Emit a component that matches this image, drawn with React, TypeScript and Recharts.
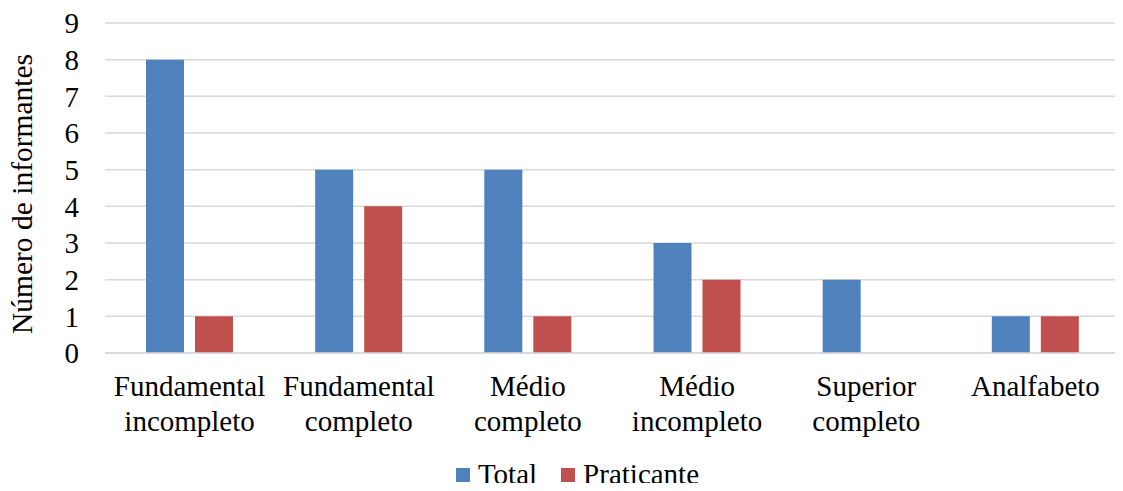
import React from "react";
import {
  BarChart,
  Bar,
  XAxis,
  YAxis,
  CartesianGrid,
  Legend,
} from "recharts";

const categories = [
  "Fundamental incompleto",
  "Fundamental completo",
  "Médio completo",
  "Médio incompleto",
  "Superior completo",
  "Analfabeto",
];
const tickLines = [
  ["Fundamental", "incompleto"],
  ["Fundamental", "completo"],
  ["Médio", "completo"],
  ["Médio", "incompleto"],
  ["Superior", "completo"],
  ["Analfabeto"],
];
const totalValues = [8, 5, 5, 3, 2, 1];
const praticanteValues = [1, 4, 1, 2, 0, 1];
const yTicks = [0, 1, 2, 3, 4, 5, 6, 7, 8, 9];

const BLUE = "#4F81BD";
const RED = "#C0504D";
const FONT = "'Liberation Serif', 'Times New Roman', serif";
const FS = 29;

const data = categories.map((c, i) => ({
  name: c,
  Total: totalValues[i],
  Praticante: praticanteValues[i],
}));

const CategoryTick = (props: any) => {
  const { x, y, index } = props;
  const lines = tickLines[index] || [];
  return (
    <g>
      {lines.map((line, i) => (
        <text
          key={i}
          x={x}
          y={y + 35 + i * 35}
          textAnchor="middle"
          style={{ fontFamily: FONT, fontSize: FS }}
          fill="#000"
        >
          {line}
        </text>
      ))}
    </g>
  );
};

const YLabel = () => (
  <text
    transform="translate(32,194) rotate(-90)"
    textAnchor="middle"
    style={{ fontFamily: FONT, fontSize: 29.5 }}
    fill="#000"
  >
    Número de informantes
  </text>
);

const LegendContent = () => (
  <div
    style={{
      display: "flex",
      justifyContent: "center",
      alignItems: "center",
      fontFamily: FONT,
      fontSize: FS,
      lineHeight: "28px",
      color: "#000",
      paddingLeft: 32,
    }}
  >
    {[
      { label: "Total", color: BLUE },
      { label: "Praticante", color: RED },
    ].map((it, i) => (
      <div
        key={it.label}
        style={{ display: "flex", alignItems: "center", marginLeft: i ? 24 : 0 }}
      >
        <span
          style={{
            display: "inline-block",
            width: 14,
            height: 14,
            background: it.color,
            marginRight: 8,
            marginTop: 2,
          }}
        />
        <span>{it.label}</span>
      </div>
    ))}
  </div>
);

export default function App() {
  return (
    <div style={{ margin: -8, width: 1123, height: 491, background: "#fff" }}>
      <BarChart
        width={1123}
        height={491}
        data={data}
        margin={{ top: 23, right: 3, left: 45, bottom: 0 }}
        barSize={38}
        barGap={11}
      >
        <CartesianGrid vertical={false} stroke="#D9D9D9" strokeWidth={1.5} />
        <XAxis
          dataKey="name"
          tick={<CategoryTick />}
          tickLine={false}
          axisLine={{ stroke: "#D9D9D9", strokeWidth: 1.5 }}
          interval={0}
          height={100}
        />
        <YAxis
          width={60}
          domain={[0, 9]}
          ticks={yTicks}
          interval={0}
          tickLine={false}
          axisLine={false}
          tickSize={0}
          tickMargin={26}
          tick={{ fontFamily: FONT, fontSize: FS, fill: "#000" }}
          label={{ content: <YLabel /> }}
        />
        <Legend
          verticalAlign="bottom"
          height={38}
          content={<LegendContent />}
          wrapperStyle={{ top: 460, left: 0, width: 1123, bottom: "auto" }}
        />
        <Bar dataKey="Total" fill={BLUE} isAnimationActive={false} />
        <Bar dataKey="Praticante" fill={RED} isAnimationActive={false} />
      </BarChart>
    </div>
  );
}
